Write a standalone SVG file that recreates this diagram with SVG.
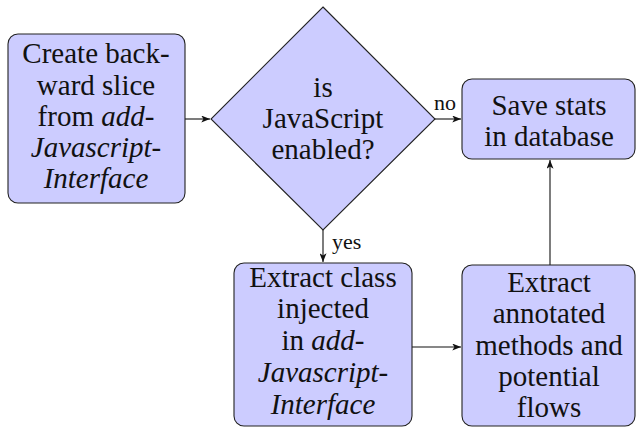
<svg xmlns="http://www.w3.org/2000/svg" width="636" height="428" viewBox="0 0 636 428">
<defs>
<style>
.node{fill:#CCCCFF;stroke:#222;stroke-width:1.1}
.t{font-size:29px;fill:#111;text-anchor:middle}
.lbl{font-size:22px;fill:#111}
.i{font-style:italic}
.c{fill:none;stroke:#111;stroke-width:1.1}
</style>
<marker id="ah" viewBox="0 0 10 8" refX="10" refY="4" markerWidth="9" markerHeight="7" markerUnits="userSpaceOnUse" orient="auto">
<path d="M0,0 L10,4 L0,8 L2.5,4 Z" fill="#111"/>
</marker>
</defs>
<rect width="636" height="428" fill="#fff"/>
<g style="font-family:'Times New Roman',Times,Tinos,'Liberation Serif','DejaVu Serif','Noto Serif',FreeSerif,serif">
<g id="connectors">
<line class="c" x1="185" y1="119" x2="210" y2="119" marker-end="url(#ah)"/>
<line class="c" x1="435" y1="119" x2="461" y2="119" marker-end="url(#ah)"/>
<line class="c" x1="323" y1="230" x2="323" y2="262" marker-end="url(#ah)"/>
<line class="c" x1="412" y1="347" x2="461" y2="347" marker-end="url(#ah)"/>
<line class="c" x1="550" y1="265" x2="550" y2="160" marker-end="url(#ah)"/>
<text class="lbl" x="434" y="110">no</text>
<text class="lbl" x="332" y="249">yes</text>
</g>
<g id="slice">
<rect class="node" x="8" y="34" width="177" height="169" rx="10"/>
<text class="t" x="96" y="63">Create back-</text>
<text class="t" x="96" y="95">ward slice</text>
<text class="t" x="96" y="126">from <tspan class="i">add-</tspan></text>
<text class="t i" x="96" y="157">Javascript-</text>
<text class="t i" x="96" y="188">Interface</text>
</g>
<g id="decision">
<polygon class="node" points="323,7 435,119 323,230 211,119"/>
<text class="t" x="323" y="97">is</text>
<text class="t" x="323" y="128">JavaScript</text>
<text class="t" x="323" y="159">enabled?</text>
</g>
<g id="save">
<rect class="node" x="462" y="79" width="173" height="80" rx="10"/>
<text class="t" x="549" y="115">Save stats</text>
<text class="t" x="549" y="146">in database</text>
</g>
<g id="extract-class">
<rect class="node" x="234" y="263" width="178" height="163" rx="10"/>
<text class="t" x="323" y="287">Extract class</text>
<text class="t" x="323" y="318">injected</text>
<text class="t" x="323" y="350">in <tspan class="i">add-</tspan></text>
<text class="t i" x="323" y="382">Javascript-</text>
<text class="t i" x="323" y="414">Interface</text>
</g>
<g id="extract-methods">
<rect class="node" x="462" y="265" width="173" height="161" rx="10"/>
<text class="t" x="549" y="292">Extract</text>
<text class="t" x="549" y="323">annotated</text>
<text class="t" x="549" y="355">methods and</text>
<text class="t" x="549" y="386">potential</text>
<text class="t" x="549" y="417">flows</text>
</g>
</g>
</svg>
